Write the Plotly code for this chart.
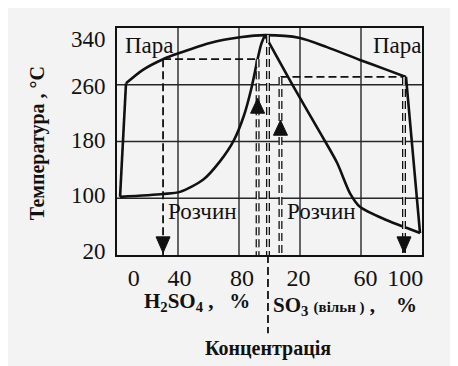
import plotly.graph_objects as go

# Composite concentration axis: 0..100 -> H2SO4 %, 100..200 -> 100 + free SO3 %
vapor_x = [2.0, 5.9, 17.0, 30.2, 41.3, 61.0, 80.7, 97.0, 120.0, 137.7, 159.3, 177.0, 189.5, 198.7]
vapor_t = [102, 262, 281, 296, 305, 319, 327, 330, 326, 313, 295, 281, 271, 51]

liquid_left_x = [2.0, 30.2, 41.3, 56.4, 67.5, 76.7, 83.3, 87.9, 91.8, 94.4, 97.0]
liquid_left_t = [102, 106, 109, 126, 152, 182, 217, 253, 292, 316, 330]

liquid_right_x = [97.0, 116.1, 134.1, 144.3, 152.8, 159.3, 177.0, 190.2, 198.7]
liquid_right_t = [330, 256, 189, 150, 107, 88, 69, 58, 51]

# tie lines (vapour -> liquid) and condensate drops
tie_x = [[30.2, 92.2], [107.2, 189.5]]
tie_t = [296, 271]
drop_x = [30.2, 92.2, 107.2, 188.2]
drop_top = [296, 296, 271, 271]
drop_double = [False, True, True, True]
arrow_x = [30.2, 92.2, 107.2, 188.2]
arrow_t = [23, 241, 210, 23]
arrow_dir = ["down", "up", "up", "down"]
azeo_x = 99.0
azeo_t = 330

x_tick_pos = [11, 41, 82, 119, 163, 189]
x_tick_text = ["0", "40", "80", "20", "60", "100"]
x_grid = [40, 80, 120, 160]
y_tick_pos = [26, 105, 182, 258, 324]
y_tick_text = ["20", "100", "180", "260", "340"]
y_grid = [100, 180, 260]

BG = "#f3f3f3"
INK = "#111111"
GRID = "#262626"
SERIF = "Liberation Serif"
NB = "\u00a0"

fig = go.Figure()

# grid lines
for g in x_grid:
    fig.add_shape(type="line", xref="x", yref="paper", x0=g, x1=g, y0=0, y1=1,
                  line=dict(color=GRID, width=1.4), layer="below")
for g in y_grid:
    fig.add_shape(type="line", xref="paper", yref="y", x0=0, x1=1, y0=g, y1=g,
                  line=dict(color=GRID, width=1.4), layer="below")

# solid curves
line_main = dict(color=INK, width=2.6)
spl = dict(color=INK, width=2.6, shape="spline", smoothing=0.8)
fig.add_trace(go.Scatter(x=vapor_x[:2], y=vapor_t[:2], mode="lines", line=line_main))
fig.add_trace(go.Scatter(x=vapor_x[1:-1], y=vapor_t[1:-1], mode="lines", line=spl))
fig.add_trace(go.Scatter(x=vapor_x[-2:], y=vapor_t[-2:], mode="lines", line=line_main))
fig.add_trace(go.Scatter(x=liquid_left_x, y=liquid_left_t, mode="lines", line=spl))
fig.add_trace(go.Scatter(x=liquid_right_x, y=liquid_right_t, mode="lines", line=spl))

DASH = "8px,4px"

def dashed(xs, ys, double):
    if double:
        fig.add_trace(go.Scatter(x=xs, y=ys, mode="lines",
                                 line=dict(color=INK, width=4, dash=DASH)))
        fig.add_trace(go.Scatter(x=xs, y=ys, mode="lines",
                                 line=dict(color=BG, width=1.4, dash=DASH)))
    else:
        fig.add_trace(go.Scatter(x=xs, y=ys, mode="lines",
                                 line=dict(color=INK, width=1.8, dash=DASH)))

for xs, t in zip(tie_x, tie_t):
    dashed(xs, [t, t], False)
for x, top, dbl in zip(drop_x, drop_top, drop_double):
    dashed([x, x], [top, 20], dbl)
dashed([azeo_x, azeo_x], [azeo_t, 20], True)

# separator continues below the plot
fig.add_shape(type="line", xref="x", yref="paper", x0=azeo_x, x1=azeo_x, y0=0, y1=-0.345,
              line=dict(color=INK, width=1.8, dash=DASH))

# arrow heads (pixel-sized, anchored at data points)
for x, t, d in zip(arrow_x, arrow_t, arrow_dir):
    p = "M-7,16 L7,16 L0,0 Z" if d == "down" else "M-7,-15 L7,-15 L0,0 Z"
    fig.add_shape(type="path", xref="x", yref="y", xsizemode="pixel", ysizemode="pixel",
                  xanchor=x, yanchor=t, path=p, fillcolor=INK, line=dict(color=INK, width=1))

# region labels
for txt, x, t in [("Пара", 21.5, 315), ("Пара", 184, 316), ("Розчин", 56, 81), ("Розчин", 134, 81)]:
    fig.add_annotation(x=x, y=t, text=txt, showarrow=False, xanchor="center", yanchor="middle",
                       font=dict(family=SERIF, size=23, color=INK))

# axis titles
bold = dict(family=SERIF, size=21, color=INK, weight="bold")
common = dict(xref="paper", yref="paper", showarrow=False, xanchor="center", yanchor="middle", font=bold)
fig.add_annotation(x=-0.262, y=0.493, textangle=-90, text="Температура , °С",
                   **{**common, "font": dict(family=SERIF, size=20, color=INK, weight="bold")})
fig.add_annotation(x=0.262, y=-0.205,
                   text="H<sub>2</sub>SO<sub>4</sub>" + NB + "," + NB * 3 + "%", **common)
fig.add_annotation(x=0.748, y=-0.225,
                   text="SO<sub>3</sub> <span style='font-size:15px'>(вільн" + NB + ")</span>"
                        + NB + "," + NB * 4 + "%", **common)
fig.add_annotation(x=0.495, y=-0.414, text="Концентрація",
                   **{**common, "font": dict(family=SERIF, size=20, color=INK, weight="bold")})

# page body has an 8px margin: size/margins compensate so the plot lands where intended
fig.update_layout(
    width=450, height=358,
    margin=dict(l=109, r=36, t=20, b=111),
    paper_bgcolor=BG, plot_bgcolor=BG,
    showlegend=False,
    xaxis=dict(range=[0, 200], tickmode="array", tickvals=x_tick_pos, ticktext=x_tick_text,
               showgrid=False, zeroline=False, ticks="", ticklabelstandoff=0, automargin=False,
               tickfont=dict(family=SERIF, size=24, color=INK),
               showline=True, mirror=True, linecolor=INK, linewidth=2),
    yaxis=dict(range=[20, 340], tickmode="array", tickvals=y_tick_pos, ticktext=y_tick_text,
               showgrid=False, zeroline=False, ticks="", ticklabelstandoff=5, automargin=False,
               tickfont=dict(family=SERIF, size=23, color=INK),
               showline=True, mirror=True, linecolor=INK, linewidth=2),
)

fig.write_html("out.html")
